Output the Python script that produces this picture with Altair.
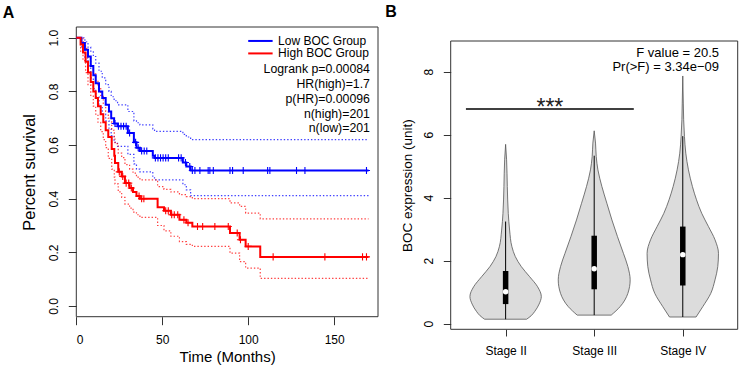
import json
import altair as alt
import pandas as pd

FONT = "Liberation Sans"

# ---------------- Panel A: Kaplan-Meier overall survival ----------------
groups = ["Low BOC Group", "High BOC Group"]
group_colors = ["#0000FF", "#FF0000"]

low_t = [0, 3, 5, 6.8, 8.4, 9.9, 11.3, 13.2, 15.1, 17.1, 19, 20.3, 22, 24, 30, 33.5,
         35, 37, 44.5, 45.5, 62, 64, 66.5, 170]
low_s = [1.0, 0.98, 0.955, 0.93, 0.895, 0.86, 0.83, 0.80, 0.775, 0.75, 0.725, 0.70,
         0.68, 0.67, 0.645, 0.61, 0.59, 0.578, 0.56, 0.552, 0.535, 0.52, 0.505, 0.505]
low_upper = [1.0, 1.0, 0.985, 0.965, 0.95, 0.93, 0.905, 0.875, 0.85, 0.825, 0.80, 0.78,
             0.765, 0.75, 0.725, 0.69, 0.683, 0.675, 0.66, 0.651, 0.64, 0.63, 0.62, 0.62]
low_lower = [1.0, 0.96, 0.925, 0.895, 0.85, 0.81, 0.78, 0.745, 0.715, 0.69, 0.66, 0.635,
             0.61, 0.595, 0.565, 0.53, 0.51, 0.50, 0.478, 0.47, 0.452, 0.433, 0.411, 0.411]

high_t = [0, 2.5, 3.9, 5.4, 6.8, 8.4, 9.9, 11.3, 12.6, 14.2, 15.7, 17.1, 18.6, 20.6, 22.1,
          22.5, 24.4, 26.4, 28.3, 31, 33, 35, 37, 47.3, 51, 55, 60, 64, 67.5, 89.4, 95,
          98.5, 107, 170]
high_s = [1.0, 0.975, 0.945, 0.91, 0.87, 0.835, 0.80, 0.775, 0.745, 0.715, 0.685, 0.655,
          0.63, 0.585, 0.56, 0.533, 0.50, 0.483, 0.458, 0.44, 0.425, 0.41, 0.40, 0.368,
          0.355, 0.34, 0.321, 0.31, 0.296, 0.272, 0.247, 0.222, 0.183, 0.183]
high_upper = [1.0, 1.0, 0.985, 0.96, 0.925, 0.895, 0.865, 0.84, 0.815, 0.785, 0.755, 0.725,
              0.70, 0.655, 0.63, 0.605, 0.57, 0.553, 0.527, 0.51, 0.495, 0.48, 0.47, 0.445,
              0.435, 0.425, 0.415, 0.408, 0.40, 0.384, 0.371, 0.346, 0.325, 0.325]
high_lower = [1.0, 0.95, 0.915, 0.87, 0.825, 0.785, 0.745, 0.715, 0.685, 0.65, 0.62, 0.59,
              0.55, 0.51, 0.48, 0.455, 0.425, 0.405, 0.38, 0.365, 0.35, 0.34, 0.33, 0.30,
              0.28, 0.26, 0.24, 0.23, 0.222, 0.197, 0.165, 0.141, 0.103, 0.103]

# censoring times (months)
low_censor = [22.5, 24.5, 26, 27.5, 29, 31, 34.5, 36, 38, 39.5, 41, 46, 47.5, 49, 50.5,
              52, 53.5, 59.5, 61, 63.5, 66, 67.5, 69, 71.9, 76.7, 77.7, 79.7, 89.4, 90.9,
              97.1, 111.3, 112.6, 128.1, 133, 168.8]
high_censor = [25, 27, 29, 30.5, 32, 36.5, 38, 39.3, 52, 53.5, 55.5, 57, 59, 62.6, 65,
               70.5, 73.5, 80.6, 88.4, 93.6, 95.5, 100, 114.5, 144.6, 166.5, 168.8]

stats_lines = ["Logrank p=0.00084", "HR(high)=1.7", "p(HR)=0.00096", "n(high)=201", "n(low)=201"]

a_x_domain = [0, 175.5]
a_y_domain = [-0.04, 1.04]
a_x_ticks = [0, 50, 100, 150]
a_y_ticks = [0.0, 0.2, 0.4, 0.6, 0.8, 1.0]

# ---------------- Panel B: BOC expression by stage ----------------
stages = ["Stage II", "Stage III", "Stage IV"]

# violin outline: expression value and half-width (in units of stage spacing)
viol_values = [
    [0.14, 0.25, 0.38, 0.62, 0.86, 1.17, 1.49, 1.81, 2.13, 2.44, 2.97, 3.5, 4.35, 5.2, 5.69],
    [0.27, 0.54, 0.96, 1.39, 1.81, 2.23, 2.76, 3.29, 3.82, 4.35, 4.88, 5.30, 5.73, 6.12],
    [0.21, 0.54, 0.96, 1.39, 1.81, 2.23, 2.66, 3.08, 3.5, 3.93, 4.35, 4.88, 5.41, 5.94,
     6.47, 7.0, 7.86],
]
viol_halfwidth = [
    [0.237, 0.288, 0.327, 0.378, 0.403, 0.361, 0.271, 0.177, 0.109, 0.071, 0.045, 0.030,
     0.019, 0.011, 0.0],
    [0.192, 0.293, 0.380, 0.406, 0.380, 0.330, 0.263, 0.200, 0.143, 0.087, 0.042, 0.023,
     0.015, 0.0],
    [0.150, 0.226, 0.316, 0.364, 0.395, 0.403, 0.364, 0.290, 0.214, 0.155, 0.109, 0.064,
     0.034, 0.019, 0.010, 0.006, 0.0],
]
whisker_low = [0.14, 0.27, 0.21]
whisker_high = [3.24, 5.33, 5.95]
q1 = [0.62, 1.09, 1.21]
q3 = [1.67, 2.79, 3.08]
median = [1.01, 1.74, 2.19]

sig_from, sig_to, sig_level = 0.552, 2.447, 6.81
anova_lines = ["F value = 20.5", "Pr(>F) = 3.34e\u221209"]

b_x_domain = [0.38, 3.62]
b_y_domain = [-0.18, 8.97]
b_y_ticks = [0, 2, 4, 6, 8]

# ---------------- data frames ----------------
def km_frame(name, t, s, lo, hi):
    return pd.DataFrame({"group": name, "t": t, "s": s, "lo": lo, "hi": hi})

km = pd.concat([
    km_frame(groups[0], low_t, low_s, low_lower, low_upper),
    km_frame(groups[1], high_t, high_s, high_lower, high_upper),
], ignore_index=True)
ci = km.drop(columns="s").melt(id_vars=["group", "t"], value_vars=["lo", "hi"],
                               var_name="bound", value_name="s")


def surv_at(times, surv, x):
    v = surv[0]
    for ti, si in zip(times, surv):
        if ti <= x:
            v = si
    return v


cens = pd.DataFrame(
    [{"group": groups[0], "t": c, "s": surv_at(low_t, low_s, c)} for c in low_censor]
    + [{"group": groups[1], "t": c, "s": surv_at(high_t, high_s, c)} for c in high_censor]
)

viol = pd.DataFrame([
    {"stage": stages[i], "value": v, "left": i + 1 - h, "right": i + 1 + h}
    for i in range(len(stages))
    for v, h in zip(viol_values[i], viol_halfwidth[i])
]).sort_values(["stage", "value"])
box = pd.DataFrame({
    "stage": stages, "pos": [1, 2, 3], "wlo": whisker_low, "whi": whisker_high,
    "q1": q1, "q3": q3, "med": median,
})

# ---------------- scales / axes ----------------
color_scale = alt.Scale(domain=groups, range=group_colors)

a_x_scale = alt.Scale(domain=a_x_domain, range=[76.3, 378], nice=False, zero=False)
a_y_scale = alt.Scale(domain=a_y_domain, range=[316.7, 27], nice=False, zero=False)
a_x_axis = alt.Axis(values=a_x_ticks, title="Time (Months)", orient="bottom", offset=-52.3,
                    tickSize=8, labelPadding=9.5, labelFontSize=12, titleFontSize=15,
                    titlePadding=4)
a_y_axis = alt.Axis(values=a_y_ticks, format=".1f", title="Percent survival", orient="left",
                    offset=-76.3, tickSize=8, labelAngle=-90, labelAlign="center",
                    labelBaseline="bottom", labelPadding=8, labelFontSize=12,
                    titleFontSize=16.4, titlePadding=10)

b_x_scale = alt.Scale(domain=b_x_domain, range=[450.7, 737.7], nice=False, zero=False)
b_y_scale = alt.Scale(domain=b_y_domain, range=[329.3, 41], nice=False, zero=False)
b_x_axis = alt.Axis(values=[1, 2, 3], labelExpr=f"{json.dumps(stages)}[datum.value - 1]",
                    title=None, orient="bottom", offset=-39.7, tickSize=6.7,
                    labelPadding=9.9, labelFontSize=12)
b_y_axis = alt.Axis(values=b_y_ticks, format="d", title="BOC expression (unit)",
                    orient="left", offset=-450.7, tickSize=7.4, labelAngle=-90,
                    labelAlign="center", labelBaseline="bottom", labelPadding=7.5,
                    labelFontSize=12, titleFontSize=13.5, titlePadding=8)


def ax(f):
    return alt.X(f"{f}:Q", scale=a_x_scale, axis=a_x_axis)


def ay(f):
    return alt.Y(f"{f}:Q", scale=a_y_scale, axis=a_y_axis)


def bx(f):
    return alt.X(f"{f}:Q", scale=b_x_scale, axis=b_x_axis, stack=None)


def by(f):
    return alt.Y(f"{f}:Q", scale=b_y_scale, axis=b_y_axis, stack=None)


grp_color = alt.Color("group:N", scale=color_scale, legend=None)

# ---------------- panel A layers ----------------
a_frame = alt.Chart(pd.DataFrame({
    "x0": [a_x_domain[0]], "x1": [a_x_domain[1]], "y0": [a_y_domain[0]], "y1": [a_y_domain[1]]
})).mark_rect(fillOpacity=0, stroke="#333", strokeWidth=1).encode(
    x=ax("x0"), x2="x1", y=ay("y0"), y2="y1")

a_ci = alt.Chart(ci).mark_line(interpolate="step-after", strokeWidth=1.2,
                               strokeDash=[1.4, 2], opacity=0.75).encode(
    x=ax("t"), y=ay("s"), color=grp_color, detail="bound:N")

a_km = alt.Chart(km).mark_line(interpolate="step-after", strokeWidth=2).encode(
    x=ax("t"), y=ay("s"), color=grp_color)

plus = "M0,-1L0,1M-1,0L1,0"
a_cens = alt.Chart(cens).mark_point(shape=plus, size=50, strokeWidth=1.1, filled=False,
                                    opacity=1).encode(x=ax("t"), y=ay("s"), color=grp_color)

leg = pd.DataFrame({"group": groups, "t0": [100, 100], "t1": [114.2, 114.2],
                    "tx": [117.4, 117.4], "s": [0.988, 0.9415]})
a_leg_lines = alt.Chart(leg).mark_rule(strokeWidth=2).encode(
    x=ax("t0"), x2="t1", y=ay("s"), color=grp_color)
a_leg_text = alt.Chart(leg).mark_text(align="left", baseline="middle", font=FONT,
                                      fontSize=12, color="black").encode(
    x=ax("tx"), y=ay("s"), text="group:N")

stats = pd.DataFrame({"label": stats_lines, "t": 170.8,
                      "s": [0.882, 0.826, 0.771, 0.716, 0.664]})
a_stats = alt.Chart(stats).mark_text(align="right", baseline="middle", font=FONT,
                                     fontSize=12.3, color="black").encode(
    x=ax("t"), y=ay("s"), text="label:N")

a_letter = alt.Chart(pd.DataFrame({"l": ["A"]})).mark_text(
    font=FONT, fontSize=16, fontWeight="bold", align="center", baseline="alphabetic",
    color="black").encode(x=alt.value(8.5), y=alt.value(18.3), text="l:N")

panel_a = alt.layer(a_frame, a_ci, a_km, a_cens, a_leg_lines, a_leg_text, a_stats, a_letter)

# ---------------- panel B layers ----------------
b_frame = alt.Chart(pd.DataFrame({
    "x0": [b_x_domain[0]], "x1": [b_x_domain[1]], "y0": [b_y_domain[0]], "y1": [b_y_domain[1]]
})).mark_rect(fillOpacity=0, stroke="#333", strokeWidth=1).encode(
    x=bx("x0"), x2="x1", y=by("y0"), y2="y1")

b_violin = alt.Chart(viol).mark_area(orient="horizontal", interpolate="monotone",
                                     fill="#dcdcdc", stroke="#555", strokeWidth=0.8,
                                     opacity=1).encode(
    y=by("value"), x=bx("left"), x2="right", detail="stage:N")

b_whisk = alt.Chart(box).mark_rule(color="black", strokeWidth=1).encode(
    x=bx("pos"), y=by("wlo"), y2="whi")
b_box = alt.Chart(box).mark_rule(color="black", strokeWidth=5.5, strokeCap="butt").encode(
    x=bx("pos"), y=by("q1"), y2="q3")
b_med = alt.Chart(box).mark_point(filled=True, color="white", size=30, opacity=1,
                                  strokeWidth=0).encode(x=bx("pos"), y=by("med"))

sig = pd.DataFrame({"x0": [sig_from], "x1": [sig_to], "y": [sig_level],
                    "xm": [(sig_from + sig_to) / 2], "ym": [sig_level - 0.18],
                    "txt": ["***"]})
b_sig = alt.Chart(sig).mark_rule(color="black", strokeWidth=1.6).encode(
    x=bx("x0"), x2="x1", y=by("y"))
b_stars = alt.Chart(sig).mark_text(font=FONT, fontSize=23, align="center",
                                   baseline="alphabetic", color="#222").encode(
    x=bx("xm"), y=by("ym"), text="txt:N")

anova = pd.DataFrame({"label": anova_lines, "x": 3.409, "y": [8.60, 8.13]})
b_anova = alt.Chart(anova).mark_text(align="right", baseline="middle", font=FONT,
                                     fontSize=13, color="black").encode(
    x=bx("x"), y=by("y"), text="label:N")

b_letter = alt.Chart(pd.DataFrame({"l": ["B"]})).mark_text(
    font=FONT, fontSize=16, fontWeight="bold", align="center", baseline="alphabetic",
    color="black").encode(x=alt.value(391), y=alt.value(16.7), text="l:N")

panel_b = alt.layer(b_frame, b_violin, b_whisk, b_box, b_med, b_sig, b_stars, b_anova,
                    b_letter)

chart = alt.layer(panel_a, panel_b).resolve_scale(
    x="independent", y="independent", color="independent"
).properties(
    width=740, height=369,
    autosize=alt.AutoSizeParams(type="none"),
    padding={"left": 0, "top": 0, "right": 0, "bottom": 0},
).configure_view(stroke=None).configure_axis(
    grid=False, domain=False, tickColor="#333", tickWidth=1, labelColor="black",
    titleColor="black", labelFont=FONT, titleFont=FONT, titleFontWeight="normal",
    labelOverlap=False,
)

chart.save("out.html", embed_options={"renderer": "svg", "actions": False})
